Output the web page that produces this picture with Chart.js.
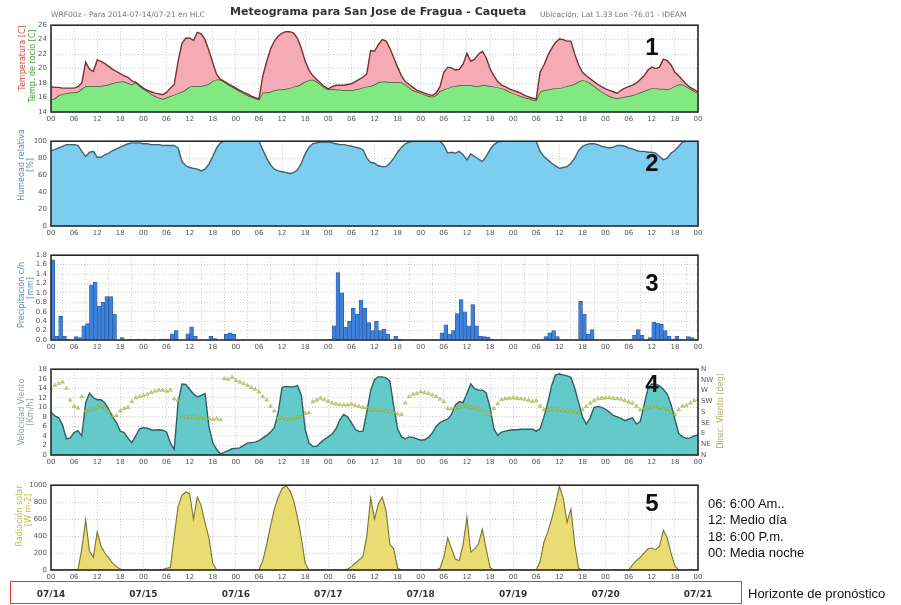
<!DOCTYPE html>
<html><head><meta charset="utf-8">
<script src="https://cdn.jsdelivr.net/npm/chart.js@4"></script>
<style>
body{margin:0;width:901px;height:605px;background:#fff;position:relative;overflow:hidden;font-family:"Liberation Sans",Arial,sans-serif;}
canvas{position:absolute;left:0;}
.t{position:absolute;white-space:nowrap;}
.yt{position:absolute;white-space:nowrap;transform:translate(-50%,-50%) rotate(-90deg);font-family:"DejaVu Sans",sans-serif;font-size:8px;}
.num{position:absolute;font-family:"Liberation Sans",Arial,sans-serif;font-weight:bold;font-size:24px;color:#111;transform:translate(-50%,-50%);}
.leg{position:absolute;left:708px;font-family:"Liberation Sans",Arial,sans-serif;font-size:13px;color:#111;white-space:nowrap;transform:translateY(-50%);}
</style></head><body>
<canvas id="c1" width="901" height="109" style="top:17px"></canvas>
<canvas id="c2" width="901" height="107" style="top:133px"></canvas>
<canvas id="c3" width="901" height="107" style="top:247px"></canvas>
<canvas id="c4" width="901" height="108" style="top:361px"></canvas>
<canvas id="c5" width="901" height="127" style="top:477px"></canvas>

<div class="t" style="left:51px;top:10px;font-family:'DejaVu Sans';font-size:7.5px;color:#777">WRF00z - Para 2014-07-14/07-21 en HLC</div>
<div class="t" style="left:230px;top:5px;font-family:'DejaVu Sans';font-weight:bold;font-size:11px;color:#333">Meteograma para San Jose de Fragua - Caqueta</div>
<div class="t" style="left:540px;top:10px;font-family:'DejaVu Sans';font-size:7.5px;color:#777">Ubicación: Lat 1.33 Lon -76.01 - IDEAM</div>

<div class="yt" style="left:22px;top:58px;color:#d04848">Temperatura [C]</div>
<div class="yt" style="left:32px;top:66px;color:#3c9a3c">Temp. de rocío [C]</div>
<div class="yt" style="left:21px;top:165px;color:#5a8ac8">Humedad relativa</div>
<div class="yt" style="left:30px;top:165px;color:#5a8ac8">[%]</div>
<div class="yt" style="left:21px;top:295px;color:#5a8ac8">Precipitación c/h</div>
<div class="yt" style="left:30px;top:288px;color:#5a8ac8">[mm]</div>
<div class="yt" style="left:21px;top:412px;color:#8aa6a0">Velocidad Viento</div>
<div class="yt" style="left:30px;top:412px;color:#8aa6a0">[Km/h]</div>
<div class="yt" style="left:720px;top:411px;color:#b8aa5c">Direc. Viento (deg)</div>
<div class="yt" style="left:19px;top:516px;color:#c4bc3c">Radiación solar</div>
<div class="yt" style="left:28px;top:510px;color:#c4bc3c">[W m-2]</div>

<div class="num" style="left:652px;top:47px">1</div>
<div class="num" style="left:652px;top:163px">2</div>
<div class="num" style="left:652px;top:283px">3</div>
<div class="num" style="left:652px;top:384px">4</div>
<div class="num" style="left:652px;top:503px">5</div>

<div class="leg" style="top:503px">06: 6:00 Am..</div>
<div class="leg" style="top:519px">12: Medio día</div>
<div class="leg" style="top:536px">18: 6:00 P.m.</div>
<div class="leg" style="top:552px">00: Media noche</div>

<div style="position:absolute;left:10px;top:581px;width:730px;height:21px;border:1.5px solid #e03838;"></div>
<div class="t" style="left:748px;top:586px;font-size:13px;color:#111">Horizonte de pronóstico</div>

<script>
// ---------- DATA (hourly, 2014-07-14 00h .. 2014-07-21 00h) ----------
const dates = ['07/14','07/15','07/16','07/17','07/18','07/19','07/20','07/21'];
const hourLabels = ['00','06','12','18'];
const dirLabels = ['N','NE','E','SE','S','SW','W','NW','N'];

const temperature = [
17.5,17.4,17.4,17.3,17.3,17.3,17.3,17.5,18.0,20.9,
19.9,19.6,21.2,21.0,20.7,20.3,19.9,19.6,19.3,19.0,
18.8,18.3,18.1,17.7,17.3,17.0,16.8,16.6,16.5,16.4,
16.7,17.3,17.8,21.0,23.5,24.2,24.2,23.9,25.0,24.8,
24.0,22.5,20.8,19.2,18.5,18.2,17.9,17.6,17.3,17.0,
16.7,16.5,16.2,16.0,15.8,19.0,21.0,22.7,23.8,24.5,
24.9,25.1,25.1,24.9,24.2,22.8,21.0,19.8,19.0,18.5,
18.0,17.5,17.2,17.5,17.7,17.7,17.7,17.8,17.9,18.2,
18.5,18.8,19.3,22.5,22.4,23.3,24.0,23.8,22.8,21.5,
20.2,19.0,18.2,17.8,17.4,17.0,16.8,16.6,16.4,16.3,
16.6,17.5,19.5,20.2,20.1,19.8,19.9,20.6,22.1,21.0,
21.3,22.0,22.4,21.5,20.0,19.0,18.2,17.7,17.5,17.2,
17.0,16.8,16.6,16.3,16.1,15.9,15.8,19.5,20.5,21.8,
22.8,23.6,24.1,24.0,23.8,23.8,22.0,20.5,19.5,19.0,
18.6,18.2,17.8,17.5,17.2,17.0,16.8,16.6,17.0,17.3,
17.5,17.7,18.0,18.5,19.0,19.8,20.2,20.0,20.2,21.3,
21.1,20.5,19.5,19.0,18.4,17.8,17.4,17.1,16.8];

const dewPoint = [
15.7,15.9,16.3,16.5,16.6,16.7,16.7,16.8,17.2,17.6,
17.6,17.6,17.6,17.6,17.7,17.8,18.0,18.1,18.2,18.2,
18.0,17.8,18.1,17.6,17.2,16.9,16.5,16.2,16.0,15.8,
16.0,16.2,16.4,16.6,16.8,17.1,17.5,17.6,17.6,17.6,
17.7,17.9,18.3,18.5,18.5,18.2,17.8,17.5,17.2,16.9,
16.6,16.3,16.1,15.9,15.7,16.7,16.7,16.8,17.0,17.1,
17.1,17.2,17.3,17.5,17.6,17.9,18.2,18.4,18.5,18.2,
17.8,17.4,17.1,17.2,17.1,17.1,17.0,17.0,17.0,17.1,
17.2,17.4,17.5,17.6,17.8,18.1,18.2,18.2,18.1,18.1,
18.1,18.1,17.8,17.4,17.0,16.8,16.6,16.4,16.2,16.1,
16.3,16.9,17.1,17.3,17.5,17.6,17.7,17.7,17.7,17.7,
17.6,17.6,17.7,17.7,17.6,17.5,17.4,17.3,17.1,16.8,
16.6,16.4,16.2,16.0,15.9,15.7,15.6,16.8,17.0,17.1,
17.2,17.3,17.3,17.4,17.6,17.7,17.9,18.2,18.4,18.3,
18.0,17.6,17.2,16.8,16.5,16.2,16.0,15.9,16.0,16.1,
16.2,16.3,16.5,16.7,16.9,17.1,17.3,17.3,17.2,17.2,
17.1,17.3,17.6,17.8,17.8,17.5,17.2,16.9,16.6];

const humidity = [
89,90,92,94,96,96,96,95,88,82,
87,88,81,81,84,86,89,91,93,95,
97,98,98,98,97,97,96,96,96,95,
95,95,95,92,76,71,69,68,67,65,
67,73,82,92,98,100,100,100,100,100,
100,100,100,100,100,90,80,72,67,65,
64,63,62,63,66,74,85,93,97,98,
99,99,99,98,97,96,96,95,94,93,
92,90,80,75,74,71,70,70,74,80,
87,93,97,99,100,100,100,100,100,100,
100,100,95,86,87,86,88,84,78,85,
82,79,76,82,90,96,99,100,100,100,
100,100,100,100,100,100,100,88,82,78,
74,71,68,69,70,74,80,89,94,96,
97,97,96,94,93,92,93,95,95,94,
92,91,89,88,88,87,87,86,82,78,
80,86,89,94,99,100,100,100,100];

// hourly accumulated precipitation, hour h covers [h, h+1)
const precipitation = [
1.7,0.08,0.5,0.08,0.02,0,0.07,0.05,0.3,0.35,
1.17,1.23,0.72,0.8,0.92,0.92,0.55,0,0.05,0,
0.02,0.01,0.02,0.01,0.02,0.01,0.02,0.01,0.02,0.02,
0.02,0.13,0.2,0,0,0.13,0.28,0.08,0,0,
0,0.08,0.03,0,0,0.12,0.15,0.12,0,0,
0,0,0,0,0,0,0,0,0,0,
0,0,0,0,0,0,0,0,0,0,
0,0,0.02,0.3,1.43,1.0,0.27,0.4,0.67,0.55,
0.85,0.68,0.37,0.2,0.4,0.2,0.23,0.12,0,0.08,
0.02,0,0,0,0,0,0,0,0.01,0.01,
0.01,0.15,0.32,0.12,0.2,0.56,0.86,0.6,0.3,0.75,
0.3,0.08,0.07,0.06,0.02,0,0,0,0,0,
0,0,0,0,0,0,0,0,0.07,0.15,
0.2,0.07,0,0,0,0,0,0.82,0.55,0.12,
0.22,0,0,0,0,0,0,0,0,0,
0.01,0.1,0.22,0.1,0,0.05,0.38,0.36,0.33,0.2,
0.08,0.02,0.08,0.02,0,0.07,0.05,0.02];

const windSpeed = [
9.0,8.2,7.8,6.3,3.4,3.6,4.7,5.1,4.0,11.0,
13.0,12.0,11.6,11.6,10.9,9.6,8.0,6.8,5.0,4.7,
3.5,2.6,4.0,5.5,5.7,5.6,5.3,5.2,5.3,5.2,
4.8,2.5,1.2,11.0,14.9,14.8,13.8,12.8,12.2,12.5,
12.9,6.0,2.6,1.2,0.2,0.6,0.9,1.3,1.4,1.5,
2.0,2.5,2.6,2.7,3.0,3.6,4.1,4.8,5.8,9.0,
14.2,14.4,14.3,14.3,14.6,12.5,5.4,2.5,1.8,1.8,
2.6,3.3,3.8,4.4,5.5,7.4,8.5,8.0,6.8,5.4,
4.9,5.0,9.0,13.5,15.8,16.4,16.4,16.2,15.5,10.2,
5.5,3.8,3.4,3.8,3.7,3.4,3.1,3.2,3.7,4.6,
6.0,6.8,7.2,7.5,8.5,10.5,11.2,11.0,12.9,14.9,
13.9,13.6,13.6,13.0,10.0,5.5,4.1,4.8,5.0,5.2,
5.3,5.3,5.4,5.4,5.4,5.4,5.0,5.5,8.0,11.0,
14.6,16.8,17.0,16.8,16.6,16.3,14.0,11.0,8.0,6.5,
7.8,10.0,10.2,10.0,9.6,9.0,8.3,8.0,7.7,7.2,
7.5,7.8,6.5,7.0,10.5,14.0,14.9,14.9,14.5,13.8,
12.8,10.6,7.5,4.5,3.8,3.5,3.6,4.0,4.2];

const windDir = [
280,292,300,306,280,230,204,197,245,183,
190,194,200,204,198,180,163,165,185,195,
200,225,240,245,250,255,262,268,272,272,
268,272,235,230,165,160,158,160,156,156,
155,153,150,152,148,320,318,326,313,306,
300,292,284,276,265,245,231,205,185,156,
155,150,152,155,158,162,175,177,224,230,
238,232,225,218,214,211,210,210,214,208,
204,200,200,190,188,190,187,185,182,178,
172,170,218,245,255,258,265,262,258,252,
245,234,224,195,193,196,200,203,205,200,
198,194,190,172,170,195,215,232,236,238,
240,238,236,234,230,225,228,205,190,188,
190,192,190,188,186,185,182,178,190,204,
218,228,236,238,240,240,238,236,234,228,
222,218,205,190,195,198,202,205,200,196,
192,180,170,190,205,208,218,228,232];

const radiation = [
0,0,0,0,0,0,0,5,250,590,
220,150,450,280,200,140,80,40,10,0,
0,0,0,0,0,0,0,0,0,5,
20,30,400,750,880,920,900,600,860,760,
560,380,80,0,0,0,0,0,0,0,
0,0,0,0,0,110,300,520,720,860,
960,995,940,820,620,380,80,0,0,0,
0,0,0,0,0,0,0,10,40,80,
120,160,400,850,600,780,860,700,300,250,
20,0,0,0,0,0,0,0,0,0,
0,20,150,380,250,130,110,300,620,210,
250,310,480,250,30,0,0,0,0,0,
0,0,0,0,0,0,0,100,330,450,
600,780,990,850,560,720,300,20,0,0,
0,0,0,0,0,0,0,0,0,0,
0,60,110,150,200,250,260,240,280,470,
380,200,50,0,0,0,0,0,0];

// ---------- helpers ----------
const hours = temperature.map((_, i) => i);          // 0..168
const precipMid = precipitation.map((_, i) => i + 0.5); // centre of each hourly interval

const tickFont = {family: 'DejaVu Sans', size: 7};
const grid = {color: '#bdbdbd', lineWidth: 0.8, drawTicks: false};
const border = {display: false, dash: [1, 2]};

function xAxis() {
  return {type: 'linear', min: 0, max: 168, position: 'bottom',
    ticks: {stepSize: 6, autoSkip: false, maxRotation: 0, padding: 3, font: tickFont, color: '#555',
      callback: v => hourLabels[(v % 24) / 6]},
    grid: grid, border: border, afterFit: s => { s.height = 14; }};
}
function yAxis(min, max, step, fmt) {
  return {min, max, position: 'left',
    ticks: {stepSize: step, autoSkip: false, padding: 4, font: tickFont, color: '#555', callback: fmt || (v => v)},
    grid: grid, border: border, afterFit: s => { s.width = 51; }};
}
const frame = {id: 'frame', afterDatasetsDraw(c) {
  const a = c.chartArea, x = c.ctx;
  x.save(); x.strokeStyle = '#2a2a2a'; x.lineWidth = 1.6;
  x.strokeRect(a.left, a.top, a.right - a.left, a.bottom - a.top); x.restore();
}};
const common = (padRight) => ({
  responsive: false, animation: false, devicePixelRatio: 1,
  layout: {padding: {left: 0, right: padRight, top: 6, bottom: 0}},
  plugins: {legend: {display: false}, tooltip: {enabled: false}},
  elements: {point: {radius: 0}, line: {tension: 0}}
});
const pts = (xs, ys) => ys.map((y, i) => ({x: xs[i], y}));

// ---------- Panel 1: temperature / dew point ----------
new Chart(document.getElementById('c1'), {
  type: 'line',
  data: {datasets: [
    {data: pts(hours, temperature), borderColor: '#7a3030', borderWidth: 1.4,
     backgroundColor: '#f5abb6', fill: 1},
    {data: pts(hours, dewPoint), borderColor: '#2f5a2a', borderWidth: 1.4,
     backgroundColor: '#82e882', fill: 'start'}
  ]},
  options: Object.assign(common(203), {scales: {x: xAxis(), y: yAxis(14, 26, 2)}}),
  plugins: [frame]
});

// ---------- Panel 2: relative humidity ----------
new Chart(document.getElementById('c2'), {
  type: 'line',
  data: {datasets: [
    {data: pts(hours, humidity), borderColor: '#3d6272', borderWidth: 1.4,
     backgroundColor: '#7dcdf0', fill: 'start'}
  ]},
  options: Object.assign(common(203), {scales: {x: xAxis(), y: yAxis(0, 100, 20)}}),
  plugins: [frame]
});

// ---------- Panel 3: precipitation ----------
new Chart(document.getElementById('c3'), {
  type: 'bar',
  data: {datasets: [
    {data: pts(precipMid, precipitation), backgroundColor: '#3f80d8', borderColor: '#23509a',
     borderWidth: 0.6, barPercentage: 1, categoryPercentage: 1}
  ]},
  options: Object.assign(common(203), {scales: {x: Object.assign(xAxis(), {offset: false}),
    y: yAxis(0, 1.8, 0.2, v => v.toFixed(1))}}),
  plugins: [frame]
});

// ---------- Panel 4: wind speed and direction ----------
const y2 = {min: 0, max: 360, position: 'right',
  ticks: {stepSize: 45, autoSkip: false, padding: 3, font: tickFont, color: '#555', callback: v => dirLabels[v / 45]},
  grid: {display: false, drawTicks: false}, border: {display: false}, afterFit: s => { s.width = 22; }};
new Chart(document.getElementById('c4'), {
  type: 'line',
  data: {datasets: [
    {data: pts(hours, windDir), yAxisID: 'y2', showLine: false, order: 0,
     pointStyle: 'triangle', pointRadius: 2.2, backgroundColor: 'rgba(196,204,70,0.75)',
     borderColor: 'rgba(120,150,40,0.8)', pointBorderWidth: 0.5},
    {data: pts(hours, windSpeed), yAxisID: 'y', order: 1, borderColor: '#2f5f66', borderWidth: 1.4,
     backgroundColor: '#64c9c9', fill: 'start'}
  ]},
  options: Object.assign(common(181), {scales: {x: xAxis(), y: yAxis(0, 18, 2), y2: y2}}),
  plugins: [frame]
});

// ---------- Panel 5: solar radiation + date axis ----------
const xd = {type: 'linear', min: 0, max: 168, position: 'bottom', weight: 1,
  grid: {display: false, drawTicks: false}, border: {display: false},
  ticks: {stepSize: 24, autoSkip: false, maxRotation: 0, padding: 5,
    font: {family: 'DejaVu Sans', size: 9, weight: 'bold'}, color: '#333',
    callback: v => dates[v / 24]},
  afterFit: s => { s.height = 20; }};
new Chart(document.getElementById('c5'), {
  type: 'line',
  data: {datasets: [
    {data: pts(hours, radiation), borderColor: '#7d7330', borderWidth: 1.1,
     backgroundColor: '#e8dc72', fill: 'start'}
  ]},
  options: Object.assign(common(203), {scales: {x: Object.assign(xAxis(), {weight: 0}), xd: xd,
    y: yAxis(0, 1000, 200)}}),
  plugins: [frame]
});
</script>
</body></html>
